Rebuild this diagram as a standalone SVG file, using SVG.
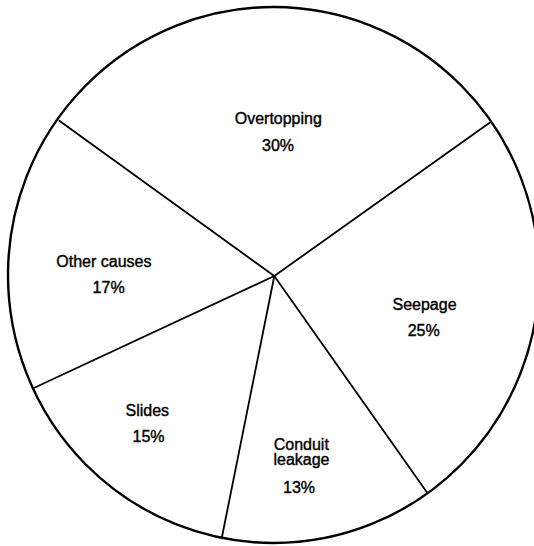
<svg xmlns="http://www.w3.org/2000/svg" width="534" height="546" viewBox="0 0 534 546">
<style>
.rim{fill:none;stroke:#000;stroke-width:2.4}
.div{stroke:#000;stroke-width:1.8;fill:none;stroke-linecap:round}
text{font-family:"Liberation Sans",Arial,sans-serif;font-size:16px;fill:#000;text-anchor:middle;stroke:#000;stroke-width:0.4}
</style>
<rect width="534" height="546" fill="#fff"/>
<g id="pie-outline">
<ellipse class="rim" cx="273.5" cy="275" rx="265.5" ry="268"/>
</g>
<g id="connectors">
<line class="div" x1="274.3" y1="276" x2="59.3" y2="120.7"/>
<line class="div" x1="274.3" y1="276" x2="491" y2="121.7"/>
<line class="div" x1="274.3" y1="276" x2="427.4" y2="493"/>
<line class="div" x1="274.3" y1="276" x2="221.7" y2="538.3"/>
<line class="div" x1="274.3" y1="276" x2="33.3" y2="388.3"/>
</g>
<g id="overtopping">
<text x="278.3" y="124">Overtopping</text>
<text x="278" y="150.7">30%</text>
</g>
<g id="seepage">
<text x="424.5" y="310">Seepage</text>
<text x="423.7" y="335.7">25%</text>
</g>
<g id="conduit-leakage">
<text x="301.3" y="450">Conduit</text>
<text x="301.5" y="465.3">leakage</text>
<text x="299" y="493.3">13%</text>
</g>
<g id="slides">
<text x="147.3" y="415.7">Slides</text>
<text x="148.5" y="442.3">15%</text>
</g>
<g id="other-causes">
<text x="103.9" y="266.7">Other causes</text>
<text x="108.6" y="293">17%</text>
</g>
</svg>
